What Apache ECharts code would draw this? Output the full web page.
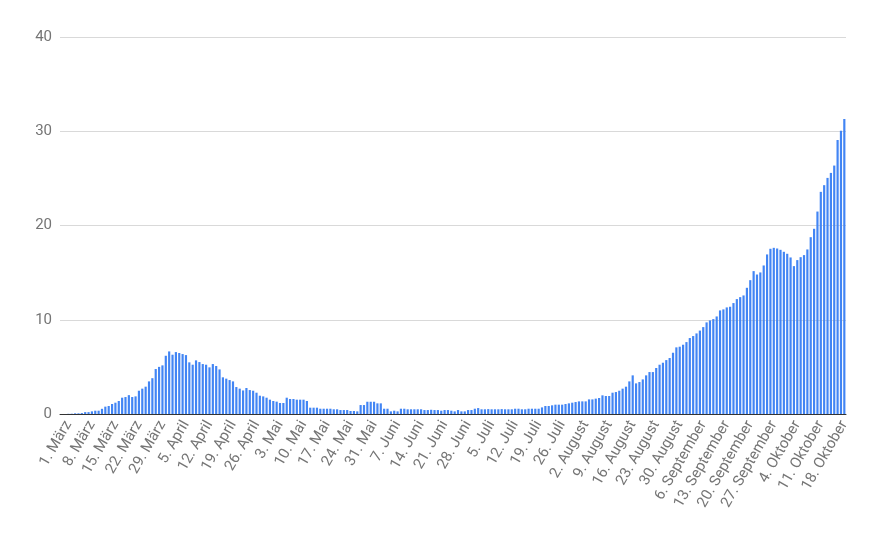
<!DOCTYPE html>
<html>
<head>
<meta charset="utf-8">
<script src="https://cdn.jsdelivr.net/npm/echarts@6/dist/echarts.min.js"></script>
<style>html,body{margin:0;padding:0;background:#fff}#c{width:873px;height:540px}</style>
</head>
<body>
<div id="c"></div>
<script>
// Months covered (German names) and number of days shown per month
const monthNames = ["Februar", "März", "April", "Mai", "Juni", "Juli", "August", "September", "Oktober"];
const monthStartDay = [28, 1, 1, 1, 1, 1, 1, 1, 1];

// Daily values per month
const valuesFeb = [0, 0];
const valuesMar = [0.02, 0.03, 0.07, 0.07, 0.1, 0.2, 0.2, 0.28, 0.35, 0.35, 0.55, 0.78, 0.85, 1.06, 1.2, 1.38, 1.73, 1.8, 2.0, 1.8, 1.87, 2.47, 2.69, 2.9, 3.46, 3.8, 4.77, 5.0, 5.16, 6.18, 6.64];
const valuesApr = [6.29, 6.57, 6.47, 6.36, 6.25, 5.48, 5.23, 5.69, 5.51, 5.3, 5.23, 4.95, 5.3, 5.09, 4.73, 3.89, 3.75, 3.6, 3.46, 2.86, 2.69, 2.5, 2.76, 2.54, 2.47, 2.26, 1.94, 1.87, 1.73, 1.52];
const valuesMay = [1.38, 1.31, 1.17, 1.17, 1.73, 1.59, 1.59, 1.52, 1.52, 1.52, 1.38, 0.67, 0.67, 0.67, 0.56, 0.56, 0.56, 0.56, 0.5, 0.5, 0.42, 0.42, 0.42, 0.32, 0.32, 0.28, 0.95, 0.95, 1.3, 1.3, 1.3];
const valuesJun = [1.13, 1.13, 0.56, 0.56, 0.28, 0.35, 0.28, 0.56, 0.56, 0.5, 0.5, 0.5, 0.5, 0.5, 0.42, 0.42, 0.45, 0.42, 0.42, 0.35, 0.42, 0.42, 0.35, 0.28, 0.42, 0.28, 0.28, 0.42, 0.42, 0.56];
const valuesJul = [0.63, 0.5, 0.5, 0.52, 0.5, 0.5, 0.5, 0.52, 0.5, 0.5, 0.5, 0.56, 0.56, 0.5, 0.5, 0.56, 0.56, 0.56, 0.56, 0.7, 0.85, 0.85, 0.92, 0.99, 0.99, 0.99, 1.06, 1.13, 1.2, 1.27, 1.34];
const valuesAug = [1.34, 1.34, 1.55, 1.55, 1.63, 1.7, 1.98, 1.91, 1.91, 2.26, 2.33, 2.47, 2.69, 2.9, 3.46, 4.1, 3.25, 3.39, 3.67, 4.1, 4.45, 4.45, 4.88, 5.23, 5.44, 5.72, 5.94, 6.5, 7.07, 7.14, 7.35];
const valuesSep = [7.63, 8.06, 8.27, 8.55, 8.85, 9.22, 9.72, 9.93, 10.07, 10.35, 10.99, 11.1, 11.31, 11.38, 11.77, 12.19, 12.4, 12.58, 13.39, 14.2, 15.16, 14.8, 15.02, 15.76, 16.93, 17.53, 17.63, 17.56, 17.42, 17.21];
const valuesOct = [17.0, 16.61, 15.69, 16.33, 16.64, 16.86, 17.46, 18.76, 19.65, 21.48, 23.57, 24.28, 25.05, 25.58, 26.36, 29.08, 30.04, 31.31];

const yTicks = [0, 10, 20, 30, 40];

const monthValues = [valuesFeb, valuesMar, valuesApr, valuesMay, valuesJun, valuesJul, valuesAug, valuesSep, valuesOct];
const categories = [];
const values = [];
monthValues.forEach((arr, m) => {
  arr.forEach((v, k) => {
    categories.push((monthStartDay[m] + k) + ". " + monthNames[m]);
    values.push(v);
  });
});
const firstLabelIndex = categories.indexOf("1. März");

const chart = echarts.init(document.getElementById('c'), null, {renderer: 'canvas'});
chart.setOption({
  animation: false,
  backgroundColor: '#ffffff',
  grid: {left: 60, right: 27, top: 37, bottom: 126, containLabel: false},
  xAxis: {
    type: 'category',
    data: categories,
    boundaryGap: true,
    axisLine: {show: true, lineStyle: {color: '#333333', width: 1}},
    axisTick: {show: false},
    axisLabel: {
      interval: (idx) => idx >= firstLabelIndex && (idx - firstLabelIndex) % 7 === 0,
      rotate: 60,
      margin: 8,
      color: '#757575',
      fontFamily: 'Roboto',
      fontSize: 15
    },
    splitLine: {show: false}
  },
  yAxis: {
    type: 'value',
    min: yTicks[0],
    max: yTicks[yTicks.length - 1],
    interval: 10,
    axisLine: {show: false},
    axisTick: {show: false},
    axisLabel: {color: '#757575', fontFamily: 'Roboto', fontSize: 15, margin: 8},
    splitLine: {lineStyle: {color: '#d9d9d9', width: 1}}
  },
  series: [{
    type: 'bar',
    data: values,
    barCategoryGap: '35%',
    itemStyle: {color: '#4285f4'}
  }]
});
</script>
</body>
</html>
